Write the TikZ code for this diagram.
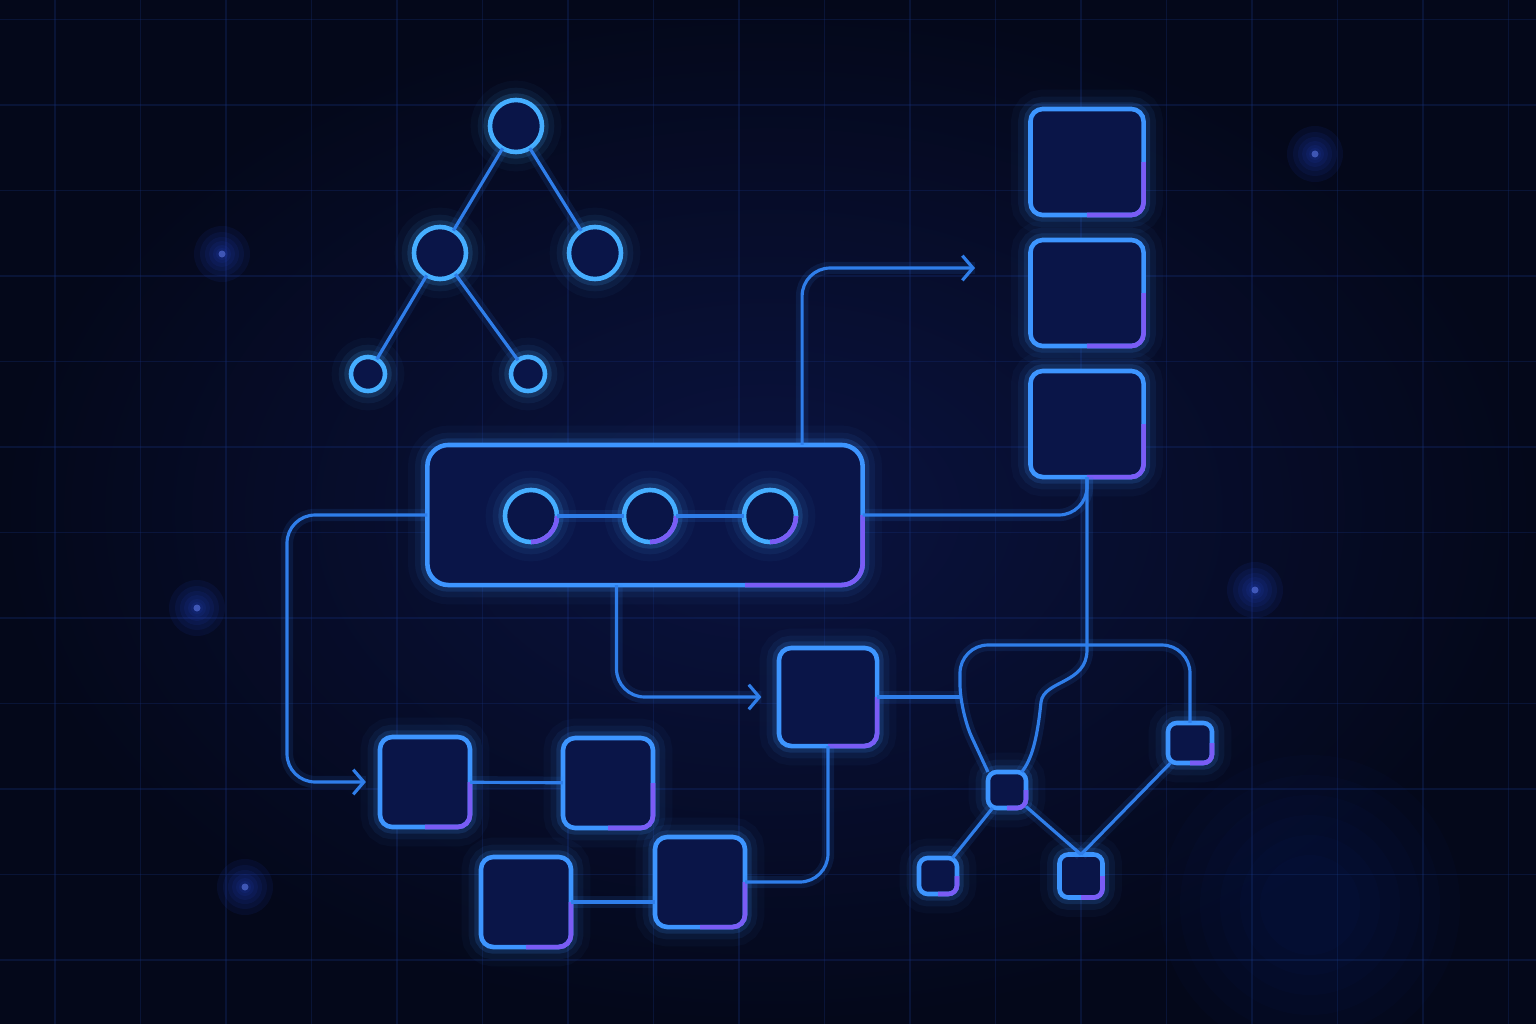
\documentclass[tikz,border=0pt]{standalone}
\usetikzlibrary{arrows.meta}
\definecolor{bgedge}{HTML}{04081A}
\definecolor{bgmid}{HTML}{0A1340}
\definecolor{gridblue}{HTML}{16307A}
\definecolor{neon}{HTML}{3D95FF}
\definecolor{ringcyan}{HTML}{45AEFF}
\definecolor{violetedge}{HTML}{7A5CF5}
\definecolor{wireblue}{HTML}{2F7EEA}
\definecolor{cellfill}{HTML}{0A1548}
\definecolor{spark}{HTML}{2E58FF}
\tikzset{
  glow/.style={preaction={draw=#1,line width=11pt,opacity=.04,-},
               preaction={draw=#1,line width=7pt,opacity=.07,-},
               preaction={draw=#1,line width=3.8pt,opacity=.15,-}},
  block/.style={draw=neon,line width=1.3pt,fill=cellfill,rounded corners=3.5pt,
                inner sep=0pt,outer sep=0pt,glow=neon},
  cell/.style={block,minimum width=.9cm,minimum height=.9cm},
  slot/.style={block,minimum width=1.13cm,minimum height=1.06cm},
  chip/.style={block,rounded corners=2.5pt,minimum width=.38cm,minimum height=.36cm},
  ring/.style={circle,draw=ringcyan,line width=1.3pt,fill=cellfill,inner sep=0pt,
               outer sep=0pt,minimum size=.52cm,glow=ringcyan},
  leaf/.style={ring,minimum size=.34cm},
  wire/.style={draw=wireblue,line width=.9pt,
               preaction={draw=wireblue,line width=3.5pt,opacity=.12,-}},
  tint/.style={draw=violetedge,line width=1.3pt,rounded corners=#1},
}
\begin{document}
\begin{tikzpicture}[>={Straight Barb[length=3pt,width=7pt]}, x=0.01cm, y=-0.01cm]
\useasboundingbox (0,0) rectangle (1536,1024);
\shade[inner color=bgmid,outer color=bgedge] (0,0) rectangle (1536,1024);
\foreach \gx in {0,...,17}
  \draw[gridblue,line width=.5pt,opacity=.3] ({55+85.5*\gx},0) -- ({55+85.5*\gx},1024);
\foreach \gy in {0,...,11}
  \draw[gridblue,line width=.5pt,opacity=.3] (0,{19.5+85.5*\gy}) -- (1536,{19.5+85.5*\gy});

% sparks
\foreach \sx/\sy in {222/254,197/608,245/887,1315/154,1255/590}{
  \foreach \rr in {.28,.22,.17,.13,.09,.06}
    \fill[spark,opacity=.07] (\sx,\sy) circle (\rr cm);
  \fill[spark!70!white,opacity=.5] (\sx,\sy) circle (.035cm);
}
\foreach \rr in {1.5,1.3,1.1,.9,.7,.5}
  \fill[spark,opacity=.018] (1310,905) circle (\rr cm);

% tree
\node[ring] (root) at (516,126) {};
\node[ring] (kidl) at (440,253) {};
\node[ring] (kidr) at (595,253) {};
\node[leaf] (leafl) at (368,374) {};
\node[leaf] (leafr) at (528,374) {};

% pipeline
\node[block,rounded corners=6pt,minimum width=4.35cm,minimum height=1.4cm] (pipe) at (645,515) {};
\node[ring] (st1) at (531,516) {};
\node[ring] (st2) at (650,516) {};
\node[ring] (st3) at (770,516) {};

% stack
\node[slot] (slot1) at (1087,162) {};
\node[slot] (slot2) at (1087,293) {};
\node[slot] (slot3) at (1087,424) {};

% cells
\node[cell,minimum size=.98cm] (mid) at (828,697) {};
\node[cell] (ca) at (425,782) {};
\node[cell] (cb) at (608,783) {};
\node[cell] (cc) at (526,902) {};
\node[cell] (cd) at (700,882) {};

% chips
\node[chip] (hub) at (1007,790) {};
\node[chip,minimum width=.44cm,minimum height=.4cm] (chipr) at (1190,743) {};
\node[chip] (chipa) at (938,876) {};
\node[chip,minimum width=.43cm,minimum height=.43cm] (chipb) at (1081,876) {};

\foreach \n in {slot1,slot2,slot3,mid,ca,cb,cc,cd}
  \draw[tint=3.5pt] (\n.south) -- (\n.south east) -- (\n.east);
\foreach \n in {hub,chipr,chipa,chipb}
  \draw[tint=2.5pt] (\n.south) -- (\n.south east) -- (\n.east);
\draw[tint=6pt] ([xshift=1cm]pipe.south) -- (pipe.south east) -- (pipe.east);
\foreach \n in {st1,st2,st3}
  \draw[violetedge,line width=1.3pt] (\n.-90) arc[start angle=-90,end angle=0,radius=.26cm];

\coordinate (upto) at (975,268);
\coordinate (lbend) at (287,640);
\coordinate (barknee) at (960,712);
\coordinate (barl) at (960,645);
\coordinate (barr) at (1190,645);
\coordinate (dropa) at (1087,650);
\coordinate (dropb) at (1041,702);

\draw[wire] (root) -- (kidl);
\draw[wire] (root) -- (kidr);
\draw[wire] (kidl) -- (leafl);
\draw[wire] (kidl) -- (leafr);
\draw[wire] (st1) -- (st2) -- (st3);

\draw[wire,->,rounded corners=8pt] ([xshift=1.57cm]pipe.north) |- (upto);
\draw[wire,rounded corners=8pt] (pipe.east) -| (slot3.south);
\draw[wire,->,rounded corners=8pt,shorten >=4pt] (pipe.west) -| (lbend) |- (ca.west);
\draw[wire,->,rounded corners=8pt,shorten >=5pt] ([xshift=-.285cm]pipe.south) |- (mid.west);
\draw[wire,rounded corners=8pt] (mid.south) |- (cd.east);
\draw[wire] (ca) -- (cb);
\draw[wire] (cc.east) -- (cc.east -| cd.west);

\draw[wire] (mid.east) -- (mid.east -| barl);
\draw[wire,rounded corners=8pt] (hub.north west) -- (barknee) -- (barl) -- (barr) -- (chipr.north);
\draw[wire] (slot3.south) -- (dropa) .. controls (1087,684) and (1044,680) .. (dropb)
  .. controls (1037,742) and (1031,760) .. ([xshift=-1.2pt]hub.north east);
\draw[wire] (hub) -- (chipa);
\draw[wire] (hub) -- (chipb.north);
\draw[wire] (chipr) -- (chipb.north);
\end{tikzpicture}
\end{document}
